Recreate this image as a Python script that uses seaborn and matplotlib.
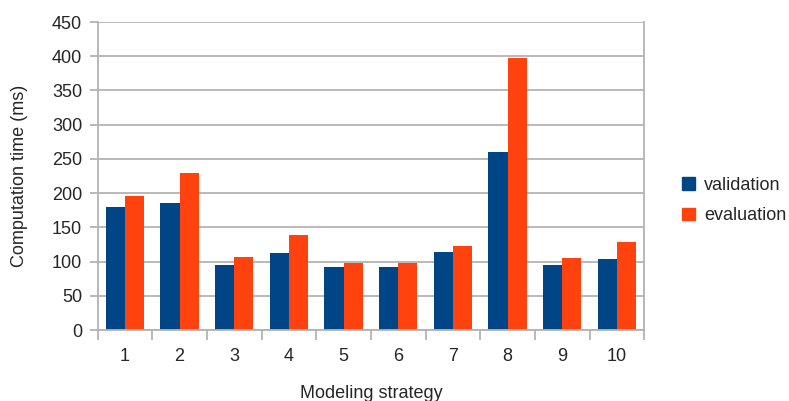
import pandas as pd
import seaborn as sns
import matplotlib.pyplot as plt
from matplotlib.ticker import MultipleLocator, FixedLocator

# --- Data ---
strategies = ["1", "2", "3", "4", "5", "6", "7", "8", "9", "10"]
validation = [180, 185, 95, 112, 92, 92, 114, 260, 95, 104]
evaluation = [196, 229, 107, 139, 98, 98, 123, 397, 105, 129]
series_names = ["validation", "evaluation"]
colors = ["#004586", "#ff420e"]

GRID = "#b3b3b3"

df = pd.DataFrame({
    "strategy": strategies * 2,
    "time": validation + evaluation,
    "series": [series_names[0]] * len(strategies) + [series_names[1]] * len(strategies),
})

sns.set_style("white")
plt.rcParams["font.family"] = ["Liberation Sans", "DejaVu Sans"]

fig = plt.figure(figsize=(7.89, 4.01), dpi=100)
ax = fig.add_axes([0.1236, 0.177, 0.693, 0.768])

sns.barplot(data=df, x="strategy", y="time", hue="series", order=strategies,
            hue_order=series_names, palette=colors, saturation=1, width=0.7,
            linewidth=0, ax=ax)

ax.set_ylim(0, 450)
ax.set_xlim(-0.5, len(strategies) - 0.5)
ax.yaxis.set_major_locator(MultipleLocator(50))
ax.set_axisbelow(True)
ax.yaxis.grid(True, color=GRID, linewidth=1.3)

for side in ["left", "right", "top", "bottom"]:
    ax.spines[side].set_color(GRID)
    ax.spines[side].set_linewidth(1.3)
ax.spines["top"].set_visible(False)

# ticks: y ticks outside, x ticks at category boundaries
ax.tick_params(axis="y", which="major", length=6, width=1.3, color=GRID,
               labelsize=13, pad=5, left=True)
ax.tick_params(axis="x", which="major", length=0, labelsize=13, pad=13)
ax.xaxis.set_minor_locator(FixedLocator([i - 0.5 for i in range(len(strategies) + 1)]))
ax.tick_params(axis="x", which="minor", length=7, width=1.3, color=GRID, bottom=True)

# the reference crops this label at the bottom edge; keep it just inside
ax.set_xlabel("Modeling strategy", fontsize=13, labelpad=14)
ax.set_ylabel("Computation time (ms)", fontsize=13, labelpad=17)

handles = [plt.Rectangle((0, 0), 1, 1, color=c) for c in colors]
ax.legend(handles, series_names, loc="center left", bbox_to_anchor=(1.04, 0.42),
          frameon=False, fontsize=13, handlelength=0.7, handleheight=0.7,
          handletextpad=0.5, labelspacing=0.75)

plt.savefig("out.png", dpi=100)
plt.close(fig)
